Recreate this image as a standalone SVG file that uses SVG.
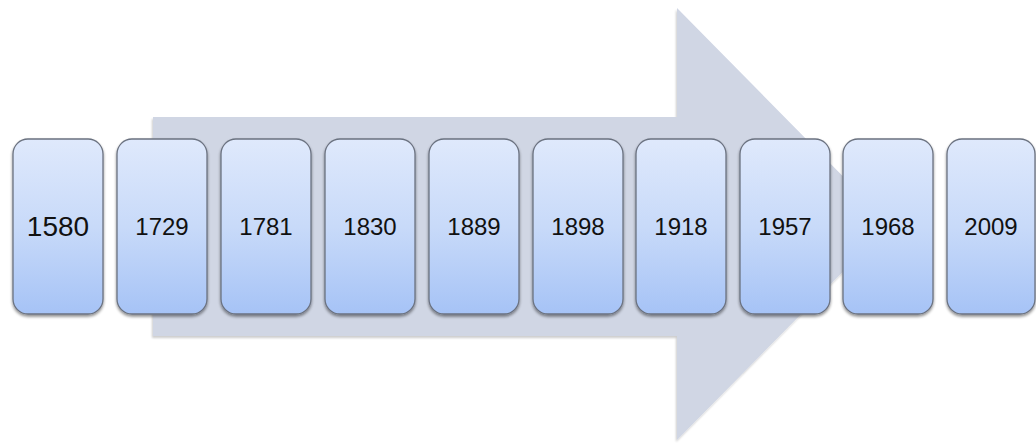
<svg xmlns="http://www.w3.org/2000/svg" width="1036" height="446" viewBox="0 0 1036 446">
<style>
.box{fill:url(#g);stroke:#6b7280;stroke-width:1.3;filter:url(#sh)}
.t{font-family:"Liberation Sans",Arial,sans-serif;font-size:24px;fill:#111;text-anchor:middle;dominant-baseline:central}
</style>
<defs>
<linearGradient id="g" x1="0" y1="0" x2="0" y2="1">
<stop offset="0" stop-color="#dfe9fc"/>
<stop offset="0.5" stop-color="#c8daf9"/>
<stop offset="1" stop-color="#a6c3f6"/>
</linearGradient>
<filter id="sh" x="-20%" y="-20%" width="140%" height="140%">
<feGaussianBlur in="SourceAlpha" stdDeviation="1.5"/>
<feOffset dx="0" dy="2" result="b"/>
<feComponentTransfer><feFuncA type="linear" slope="0.45"/></feComponentTransfer>
<feMerge><feMergeNode/><feMergeNode in="SourceGraphic"/></feMerge>
</filter>
<filter id="ash" x="-5%" y="-5%" width="110%" height="110%">
<feGaussianBlur in="SourceAlpha" stdDeviation="1"/>
<feOffset dx="-1" dy="1.5"/>
<feComponentTransfer><feFuncA type="linear" slope="0.2"/></feComponentTransfer>
<feMerge><feMergeNode/><feMergeNode in="SourceGraphic"/></feMerge>
</filter>
</defs>
<g id="arrow">
<polygon points="153,117 677,117 677,8 890,224 677,440 677,336 153,336" fill="#d0d6e4" filter="url(#ash)"/>
</g>
<g id="connectors"/>
<g id="n1580"><rect class="box" x="13" y="139" width="90" height="175" rx="15"/><text class="t" x="58" y="226" style="font-size:28px">1580</text></g>
<g id="n1729"><rect class="box" x="117" y="139" width="90" height="175" rx="15"/><text class="t" x="162" y="226">1729</text></g>
<g id="n1781"><rect class="box" x="221" y="139" width="90" height="175" rx="15"/><text class="t" x="266" y="226">1781</text></g>
<g id="n1830"><rect class="box" x="325" y="139" width="90" height="175" rx="15"/><text class="t" x="370" y="226">1830</text></g>
<g id="n1889"><rect class="box" x="429" y="139" width="90" height="175" rx="15"/><text class="t" x="474" y="226">1889</text></g>
<g id="n1898"><rect class="box" x="533" y="139" width="90" height="175" rx="15"/><text class="t" x="578" y="226">1898</text></g>
<g id="n1918"><rect class="box" x="636" y="139" width="90" height="175" rx="15"/><text class="t" x="681" y="226">1918</text></g>
<g id="n1957"><rect class="box" x="740" y="139" width="90" height="175" rx="15"/><text class="t" x="785" y="226">1957</text></g>
<g id="n1968"><rect class="box" x="843" y="139" width="90" height="175" rx="15"/><text class="t" x="888" y="226">1968</text></g>
<g id="n2009"><rect class="box" x="947" y="139" width="88" height="175" rx="15"/><text class="t" x="991" y="226">2009</text></g>
</svg>
